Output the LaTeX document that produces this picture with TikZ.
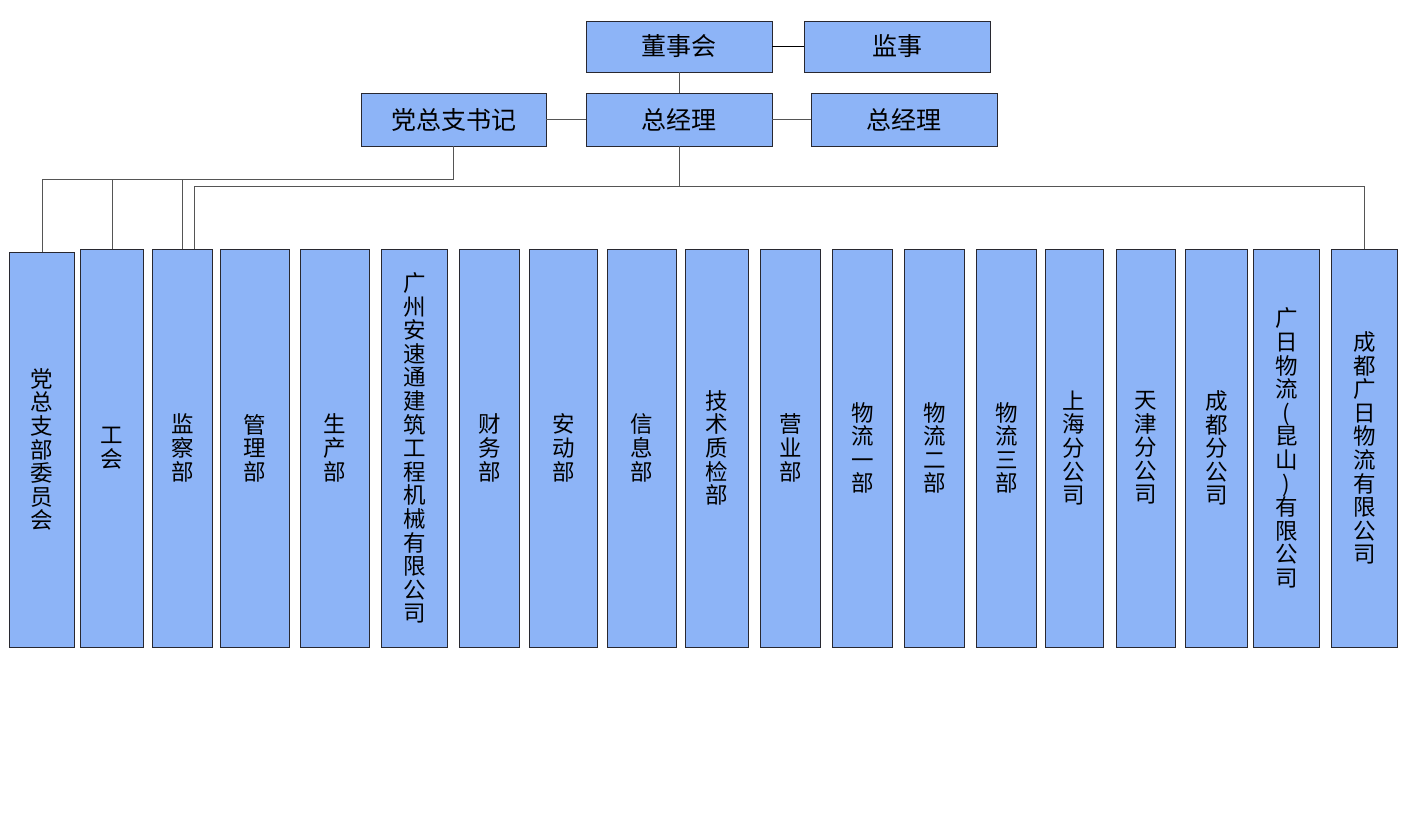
\documentclass[tikz,border=0pt]{standalone}
\usepackage{fontspec}
\setmainfont{Noto Sans CJK SC}
\definecolor{boxblue}{RGB}{141,180,247}
\definecolor{edgec}{RGB}{40,40,48}
\definecolor{linec}{RGB}{85,85,85}
\begin{document}
\begin{tikzpicture}[x=1pt,y=-1pt,
  topbox/.style={draw=edgec, fill=boxblue, line width=0.9pt, inner sep=0pt,
    font=\fontsize{25}{25}\selectfont},
  botbox/.style={draw=edgec, fill=boxblue, line width=0.9pt, inner sep=0pt,
    align=center, font=\fontsize{22.5}{23.6}\selectfont},
  conn/.style={draw=linec, line width=0.8pt}]
\useasboundingbox (0,0) rectangle (1411,816);
\newcommand\tbox[6]{\node[topbox, minimum width={#3-#2}, minimum height={#5-#4}] (#1) at ({(#2+#3)/2},{(#4+#5)/2}) {#6};}
\newcommand\bbox[5]{\node[botbox, minimum width={#3-#2}, minimum height={647-#4}] (#1) at ({(#2+#3)/2},{(#4+647)/2}) {#5};}
% top level
\tbox{dsh}{586}{772}{21}{72}{董事会}
\tbox{js}{804}{990}{21}{72}{监事}
\tbox{dzsj}{361}{546}{93}{146}{党总支书记}
\tbox{zjl}{586}{772}{93}{146}{总经理}
\tbox{zjl2}{811}{997}{93}{146}{总经理}
% bottom row
\bbox{b1}{9.5}{74.5}{252}{党\\总\\支\\部\\委\\员\\会}
\bbox{b2}{80.5}{143.5}{249}{工\\会}
\bbox{b3}{152.5}{212.5}{249}{监\\察\\部}
\bbox{b4}{220.5}{289.5}{249}{管\\理\\部}
\bbox{b5}{300}{369.5}{249}{生\\产\\部}
\bbox{b6}{381.5}{447.5}{249}{广\\州\\安\\速\\通\\建\\筑\\工\\程\\机\\械\\有\\限\\公\\司}
\bbox{b7}{459.5}{519.5}{249}{财\\务\\部}
\bbox{b8}{529.5}{597.5}{249}{安\\动\\部}
\bbox{b9}{607.5}{676}{249}{信\\息\\部}
\bbox{b10}{685.5}{748.5}{249}{技\\术\\质\\检\\部}
\bbox{b11}{760}{820.5}{249}{营\\业\\部}
\bbox{b12}{832.5}{892.5}{249}{物\\流\\一\\部}
\bbox{b13}{904.5}{964.5}{249}{物\\流\\二\\部}
\bbox{b14}{976.5}{1036.5}{249}{物\\流\\三\\部}
\bbox{b15}{1045}{1103}{249}{上\\海\\分\\公\\司}
\bbox{b16}{1116.5}{1175.5}{249}{天\\津\\分\\公\\司}
\bbox{b17}{1185.5}{1247.5}{249}{成\\都\\分\\公\\司}
\bbox{b18}{1253.5}{1319.5}{249}{广\\日\\物\\流\\(\\昆\\山\\)\\有\\限\\公\\司}
\bbox{b19}{1331.5}{1397.5}{249}{成\\都\\广\\日\\物\\流\\有\\限\\公\\司}
% junction coordinates
\coordinate (j1) at (453,179);
\coordinate (j2) at (679,186);
\coordinate (b3r) at (194,249);
% top connectors
\draw[conn, draw=black] (dsh.east) -- (js.west);
\draw[conn] (dsh.south) -- (zjl.north);
\draw[conn] (dzsj.east) -- (zjl.west);
\draw[conn] (zjl.east) -- (zjl2.west);
% party branch
\draw[conn] (dzsj.south) |- (b1.north |- j1) -- (b1.north);
\draw[conn] (b2.north) -- (b2.north |- j1);
\draw[conn] (b3.north) -- (b3.north |- j1);
% general manager branch
\draw[conn] (zjl.south) -- (j2);
\draw[conn] (b3r) |- (b19.north |- j2) -- (b19.north);
\end{tikzpicture}
\end{document}
